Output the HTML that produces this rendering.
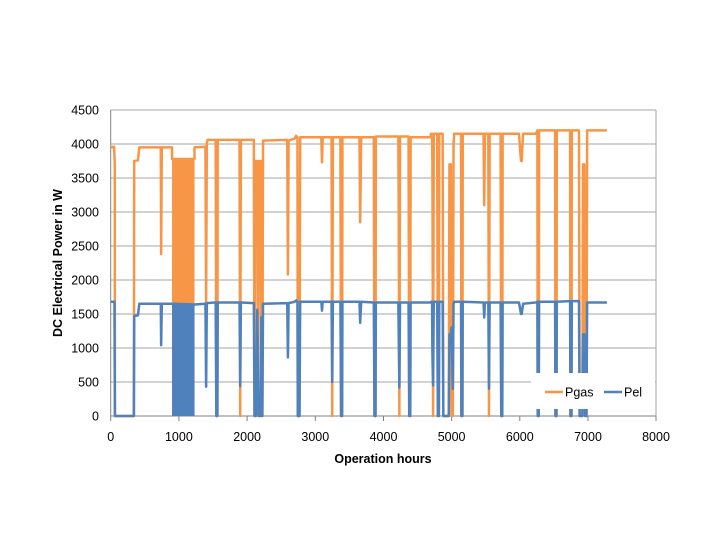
<!DOCTYPE html>
<html><head><style>
body{margin:0;background:#fff;}
svg{display:block;font-family:"Liberation Sans",sans-serif;}
</style></head><body>
<svg width="720" height="540" viewBox="0 0 720 540">
<rect width="720" height="540" fill="#fff"/>
<g stroke="#a6a6a6" stroke-width="1">
<line x1="110.7" y1="110" x2="656" y2="110"/>
<line x1="110.7" y1="144" x2="656" y2="144"/>
<line x1="110.7" y1="178" x2="656" y2="178"/>
<line x1="110.7" y1="212" x2="656" y2="212"/>
<line x1="110.7" y1="246" x2="656" y2="246"/>
<line x1="110.7" y1="280" x2="656" y2="280"/>
<line x1="110.7" y1="314" x2="656" y2="314"/>
<line x1="110.7" y1="348" x2="656" y2="348"/>
<line x1="110.7" y1="382" x2="656" y2="382"/>
<line x1="656" y1="110" x2="656" y2="416"/>
</g>
<g stroke="#808080" stroke-width="1">
<line x1="110.7" y1="110" x2="110.7" y2="416"/>
<line x1="110.7" y1="416" x2="656" y2="416"/>
<line x1="110.7" y1="416" x2="110.7" y2="421"/><line x1="178.9" y1="416" x2="178.9" y2="421"/><line x1="247.1" y1="416" x2="247.1" y2="421"/><line x1="315.3" y1="416" x2="315.3" y2="421"/><line x1="383.5" y1="416" x2="383.5" y2="421"/><line x1="451.6" y1="416" x2="451.6" y2="421"/><line x1="519.8" y1="416" x2="519.8" y2="421"/><line x1="588" y1="416" x2="588" y2="421"/><line x1="656" y1="416" x2="656" y2="421"/>
</g>
<g transform="matrix(0.06816,0,0,-0.068,110.7,416)">
<rect x="900" y="0" width="330" height="3780" fill="#f79646"/>
<polyline fill="none" stroke="#f79646" stroke-width="2.5" vector-effect="non-scaling-stroke" stroke-linejoin="round" points="0,3950 50,3960 60,3700 62,0 340,0 345,3750 400,3760 420,3950 735,3950 740,2380 750,3950 900,3950 900,3780 1230,3780 1230,3950 1390,3960 1400,1650 1410,4000 1420,4060 1540,4060 1550,0 1565,0 1570,4060 1890,4060 1900,0 1910,4060 2100,4060 2110,0 2120,3750 2150,3750 2160,0 2175,3750 2200,3750 2210,0 2225,0 2235,4050 2590,4060 2600,2080 2610,4050 2700,4080 2720,4120 2740,4100 2745,0 2770,0 2780,4100 3090,4100 3100,3730 3110,4100 3240,4100 3250,0 3260,4100 3370,4100 3380,0 3395,0 3400,4100 3650,4100 3660,2850 3675,4100 3860,4100 3870,0 3885,0 3890,4110 4220,4110 4225,3200 4235,0 4245,4110 4370,4110 4380,0 4395,0 4400,4100 4690,4100 4700,4150 4715,4150 4720,3700 4730,0 4740,4150 4790,4150 4800,0 4815,0 4820,4150 4870,4150 4880,0 4960,0 4970,3700 4990,3700 5000,0 5020,0 5030,4000 5040,4150 5140,4150 5145,0 5160,0 5165,4150 5470,4150 5480,3100 5490,4150 5540,4150 5550,0 5560,4150 5720,4150 5730,0 5745,0 5750,4150 5990,4150 6020,3750 6030,3750 6050,4150 6240,4150 6260,4200 6265,0 6280,0 6285,4200 6520,4200 6525,0 6540,0 6545,4200 6740,4200 6745,0 6760,0 6765,4200 6870,4200 6880,0 6920,0 6930,3700 6950,3700 6960,0 6980,0 6990,4200 7280,4200"/>
<rect x="900" y="0" width="330" height="1640" fill="#4f81bd"/>
<polyline fill="none" stroke="#4f81bd" stroke-width="2.5" vector-effect="non-scaling-stroke" stroke-linejoin="round" points="0,1680 55,1680 62,0 340,0 345,1470 400,1480 420,1650 735,1650 740,1040 750,1650 900,1650 1230,1640 1390,1650 1400,430 1410,1660 1540,1670 1550,0 1565,0 1570,1670 1890,1670 1900,440 1910,1670 2100,1660 2110,0 2130,0 2150,1560 2170,0 2200,0 2210,1450 2225,0 2235,1650 2590,1660 2600,860 2610,1660 2700,1680 2720,1700 2740,1680 2745,0 2770,0 2780,1680 3090,1680 3100,1550 3110,1680 3240,1680 3250,500 3260,1680 3370,1680 3380,0 3395,0 3400,1680 3650,1680 3660,1370 3675,1680 3860,1670 3870,0 3885,0 3890,1670 4220,1670 4225,1250 4235,420 4245,1670 4370,1670 4380,0 4395,0 4400,1670 4690,1670 4700,1680 4715,1680 4720,900 4730,450 4740,1680 4790,1680 4800,0 4815,0 4820,1680 4870,1680 4880,0 4960,0 4970,1200 4990,1200 5000,1300 5020,400 5030,1650 5040,1680 5140,1680 5145,0 5160,0 5165,1680 5470,1670 5480,1450 5490,1670 5540,1670 5550,400 5560,1670 5720,1670 5730,0 5745,0 5750,1670 5990,1670 6020,1500 6030,1500 6050,1650 6240,1670 6260,1680 6265,0 6280,0 6285,1680 6520,1680 6525,0 6540,0 6545,1680 6740,1690 6745,0 6760,0 6765,1690 6870,1690 6880,0 6920,0 6930,1200 6950,1200 6960,0 6980,0 6990,1670 7280,1670"/>
</g>
<rect x="531" y="373" width="124" height="36" fill="#fff"/>
<line x1="545" y1="392" x2="563" y2="392" stroke="#f79646" stroke-width="2.5"/>
<text x="565" y="396.5" font-size="12.5" fill="#000">Pgas</text>
<line x1="604" y1="392" x2="622" y2="392" stroke="#4f81bd" stroke-width="2.5"/>
<text x="624" y="396.5" font-size="12.5" fill="#000">Pel</text>
<g font-size="12.5" fill="#000" text-anchor="end">
<text x="99" y="114.5">4500</text><text x="99" y="148.5">4000</text><text x="99" y="182.5">3500</text><text x="99" y="216.5">3000</text><text x="99" y="250.5">2500</text><text x="99" y="284.5">2000</text><text x="99" y="318.5">1500</text><text x="99" y="352.5">1000</text><text x="99" y="386.5">500</text><text x="99" y="420.5">0</text>
</g>
<g font-size="12.5" fill="#000" text-anchor="middle">
<text x="110.7" y="441">0</text><text x="178.9" y="441">1000</text><text x="247.1" y="441">2000</text><text x="315.3" y="441">3000</text><text x="383.5" y="441">4000</text><text x="451.6" y="441">5000</text><text x="519.8" y="441">6000</text><text x="588" y="441">7000</text><text x="656" y="441">8000</text>
</g>
<text x="383" y="463" font-size="12.5" font-weight="bold" text-anchor="middle">Operation hours</text>
<text transform="translate(62,263) rotate(-90)" font-size="12.5" font-weight="bold" text-anchor="middle">DC Electrical Power in W</text>
</svg>
</body></html>
